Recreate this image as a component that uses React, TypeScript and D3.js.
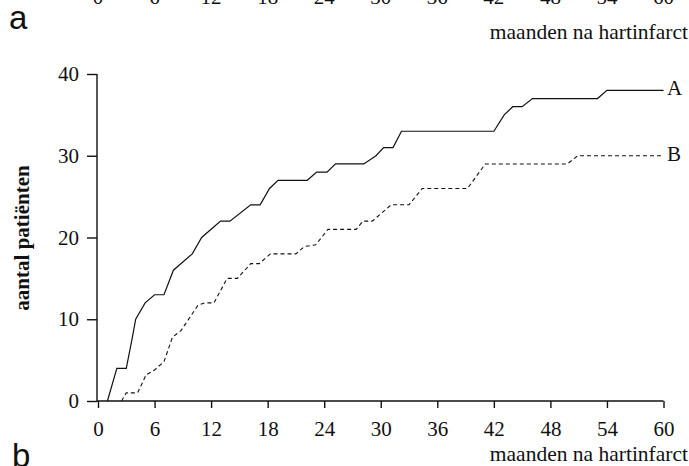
import * as d3 from 'd3';
import React, { useRef, useEffect } from 'react';

// --------------------------------------------------------
// data (months after infarct, patients)
// --------------------------------------------------------
const monthTicks = [0, 6, 12, 18, 24, 30, 36, 42, 48, 54, 60];
const countTicks = [0, 10, 20, 30, 40];

const curveA: [number, number][] = [
  [1, 0], [2, 4], [3, 4], [3.6, 7.5], [4, 10], [5, 12], [6, 13], [7, 13], [8, 16],
  [9, 17], [10, 18], [11, 20], [12, 21], [13, 22], [14, 22], [16.2, 24], [17.2, 24],
  [18.2, 26], [19.1, 27], [22.2, 27], [23.2, 28], [24.3, 28], [25.2, 29], [28.2, 29],
  [29.5, 30], [30.3, 31], [31.3, 31], [32.2, 33], [42, 33], [43.1, 35], [44, 36],
  [45, 36], [46.1, 37], [53, 37], [54, 38], [60, 38]
];

const curveB: [number, number][] = [
  [2.5, 0], [3, 1], [4.2, 1], [5.1, 3.2], [6, 3.8], [7, 4.8], [7.9, 7.8], [8.8, 8.6],
  [10.6, 11.7], [11.3, 12], [12.3, 12], [13.7, 15], [14.8, 15], [16.2, 16.8],
  [17.1, 16.8], [18.3, 18], [21, 18], [21.9, 18.9], [23.1, 19.1], [24.4, 21],
  [27.4, 21], [28.1, 22], [29.1, 22], [31.1, 24], [33, 24], [34.4, 26], [39.2, 26],
  [41.1, 29], [49.8, 29], [50.9, 30], [60, 30]
];

const seriesLabels = ['A', 'B'];

const W = 689;
const H = 466;
const serif = '"Liberation Serif", "Times New Roman", serif';
const sans = '"Liberation Sans", Arial, sans-serif';

function App() {
  const xAxisRef = useRef<SVGGElement>(null);
  const yAxisRef = useRef<SVGGElement>(null);

  const x = d3.scaleLinear([0, 60], [98, 663.5]);
  const y = d3.scaleLinear([0, 40], [401, 74]);

  const line = d3.line<[number, number]>()
    .x(d => x(d[0]))
    .y(d => y(d[1]));

  useEffect(() => {
    const xAxis = d3.axisBottom(x).tickValues(monthTicks).tickSize(7).tickPadding(13);
    const yAxis = d3.axisLeft(y).tickValues(countTicks).tickSize(10).tickPadding(8);

    const gx = d3.select(xAxisRef.current!);
    gx.selectAll('*').remove();
    gx.call(xAxis);
    gx.select('.domain').attr('d', `M${x(0) - 1},0H${x(60)}`);

    const gy = d3.select(yAxisRef.current!);
    gy.selectAll('*').remove();
    gy.call(yAxis);
    gy.select('.domain').attr('d', `M0,${y(40)}V${y(0)}`);

    // plain print look for both axes
    [gx, gy].forEach(g => {
      g.attr('font-family', serif).attr('font-size', 21);
      g.selectAll('path, line').attr('stroke', '#111').attr('stroke-width', 1.4);
      g.selectAll('text').attr('fill', '#111');
    });
  });

  return (
    <svg width={W} height={H} style={{ position: 'absolute', left: 0, top: 0 }}>
      <rect width={W} height={H} fill="#fff" />

      {/* remains of panel a, cut off at the top */}
      {monthTicks.map(t => (
        <text key={t} x={x(t)} y={4} textAnchor="middle"
          fontFamily={serif} fontSize={21} fill="#111">{t}</text>
      ))}
      <text x={688} y={39} textAnchor="end" fontFamily={serif} fontSize={21.5} fill="#111">
        maanden na hartinfarct
      </text>
      <text x={9} y={29} fontFamily={sans} fontSize={33} fill="#111">a</text>

      {/* panel b */}
      <g ref={yAxisRef} transform={`translate(${x(0) - 1},0)`} />
      <g ref={xAxisRef} transform={`translate(0,${y(0)})`} />

      <path d={line(curveA)!} fill="none" stroke="#111" strokeWidth={1.2} />
      <path d={line(curveB)!} fill="none" stroke="#111" strokeWidth={1.1} strokeDasharray="4,3" />

      <text x={667} y={y(38) + 5} fontFamily={serif} fontSize={21} fill="#111">{seriesLabels[0]}</text>
      <text x={667} y={y(30) + 5} fontFamily={serif} fontSize={21} fill="#111">{seriesLabels[1]}</text>

      <text transform={`translate(29,${238}) rotate(-90)`} textAnchor="middle"
        fontFamily={serif} fontWeight="bold" fontSize={21} fill="#111">
        aantal patiënten
      </text>

      <text x={688} y={461} textAnchor="end" fontFamily={serif} fontSize={21.5} fill="#111">
        maanden na hartinfarct
      </text>
      <text x={12} y={467} fontFamily={sans} fontSize={33} fill="#111">b</text>
    </svg>
  );
}

export default App;
